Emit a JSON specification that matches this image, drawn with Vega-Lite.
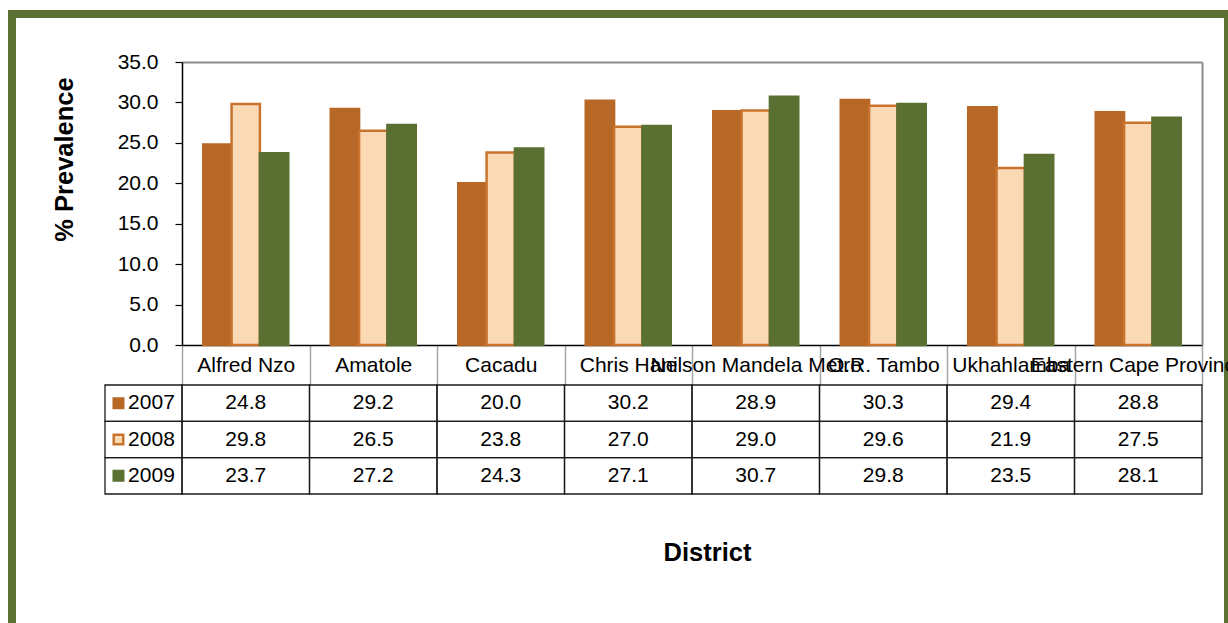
{
  "$schema": "https://vega.github.io/schema/vega-lite/v6.json",
  "width": 1216,
  "height": 621,
  "autosize": {"type": "none"},
  "padding": {"left": 12, "top": 14, "right": 0, "bottom": -12},
  "background": "white",
  "config": {
    "view": {"stroke": "#5b7133", "strokeWidth": 8, "fill": "white"},
    "font": "Liberation Sans",
    "axis": {"labelFont": "Liberation Sans", "titleFont": "Liberation Sans", "labelColor": "black", "titleColor": "black", "grid": false},
    "text": {"font": "Liberation Sans", "fontSize": 21, "color": "black"}
  },
  "datasets": {
    "prevalence": [
      {"district": "Alfred Nzo", "year": "2007", "value": 24.8},
      {"district": "Alfred Nzo", "year": "2008", "value": 29.8},
      {"district": "Alfred Nzo", "year": "2009", "value": 23.7},
      {"district": "Amatole", "year": "2007", "value": 29.2},
      {"district": "Amatole", "year": "2008", "value": 26.5},
      {"district": "Amatole", "year": "2009", "value": 27.2},
      {"district": "Cacadu", "year": "2007", "value": 20.0},
      {"district": "Cacadu", "year": "2008", "value": 23.8},
      {"district": "Cacadu", "year": "2009", "value": 24.3},
      {"district": "Chris Hani", "year": "2007", "value": 30.2},
      {"district": "Chris Hani", "year": "2008", "value": 27.0},
      {"district": "Chris Hani", "year": "2009", "value": 27.1},
      {"district": "Nelson Mandela Metro", "year": "2007", "value": 28.9},
      {"district": "Nelson Mandela Metro", "year": "2008", "value": 29.0},
      {"district": "Nelson Mandela Metro", "year": "2009", "value": 30.7},
      {"district": "O.R. Tambo", "year": "2007", "value": 30.3},
      {"district": "O.R. Tambo", "year": "2008", "value": 29.6},
      {"district": "O.R. Tambo", "year": "2009", "value": 29.8},
      {"district": "Ukhahlamba", "year": "2007", "value": 29.4},
      {"district": "Ukhahlamba", "year": "2008", "value": 21.9},
      {"district": "Ukhahlamba", "year": "2009", "value": 23.5},
      {"district": "Eastern Cape Province", "year": "2007", "value": 28.8},
      {"district": "Eastern Cape Province", "year": "2008", "value": 27.5},
      {"district": "Eastern Cape Province", "year": "2009", "value": 28.1}
    ]
  },
  "data": {"name": "prevalence"},
  "layer": [
    {
      "layer": [
        {
          "mark": {"type": "bar", "strokeWidth": 2.5},
          "encoding": {
            "x": {
              "field": "district", "type": "nominal", "sort": null,
              "scale": {
                "domain": ["Alfred Nzo", "Amatole", "Cacadu", "Chris Hani", "Nelson Mandela Metro", "O.R. Tambo", "Ukhahlamba", "Eastern Cape Province"],
                "range": [170, 1190], "paddingInner": 0, "paddingOuter": 0
              },
              "axis": {
                "orient": "bottom", "offset": -290,
                "title": "District", "titleFontSize": 25.5, "titleFontWeight": "bold",
                "titleX": 695, "titleY": 207, "titleBaseline": "middle", "titleAlign": "center",
                "labelAngle": 0, "labelFontSize": 21, "labelPadding": -20, "labelBaseline": "middle",
                "labelOverlap": false, "labelLimit": 0, "labelBound": false, "labelFlush": false,
                "tickBand": "extent", "tickSize": 40, "tickColor": "#a6a6a6", "tickWidth": 1.5,
                "domainColor": "black", "domainWidth": 1.5
              }
            },
            "xOffset": {
              "field": "year", "type": "nominal",
              "scale": {"domain": ["2007", "2008", "2009"], "paddingInner": 0, "paddingOuter": 0.75}
            },
            "y": {
              "field": "value", "type": "quantitative",
              "scale": {"domain": [0, 35], "range": [331, 48], "nice": false},
              "axis": {
                "orient": "left", "offset": -170,
                "values": [0, 5, 10, 15, 20, 25, 30, 35], "format": ".1f",
                "labelFontSize": 21, "labelPadding": 17,
                "tickSize": 7, "tickColor": "black", "tickWidth": 1.2,
                "domainColor": "black", "domainWidth": 1.5,
                "title": "% Prevalence", "titleFontSize": 25.5, "titleFontWeight": "bold",
                "titleAngle": -90, "titleX": -118, "titleY": 145,
                "titleBaseline": "middle", "titleAlign": "center"
              }
            },
            "fill": {
              "field": "year", "type": "nominal",
              "scale": {"domain": ["2007", "2008", "2009"], "range": ["#b86826", "#fad9b4", "#5a7032"]},
              "legend": null
            },
            "stroke": {
              "field": "year", "type": "nominal",
              "scale": {"domain": ["2007", "2008", "2009"], "range": ["#b86826", "#c8742f", "#5a7032"]},
              "legend": null
            }
          }
        },
        {
          "mark": {"type": "bar", "opacity": 0},
          "encoding": {
            "x": {
              "field": "district", "type": "nominal", "sort": null,
              "axis": {"orient": "top", "offset": -48, "labels": false, "ticks": false, "title": null, "domainColor": "#8c8c8c", "domainWidth": 2}
            },
            "y": {
              "field": "value", "type": "quantitative",
              "axis": {"orient": "right", "offset": -26, "labels": false, "ticks": false, "title": null, "domainColor": "#8c8c8c", "domainWidth": 2}
            }
          }
        }
      ],
      "resolve": {"axis": {"x": "independent", "y": "independent"}}
    },
    {
      "layer": [
        {
          "mark": {"type": "rect", "fill": "white", "fillOpacity": 0, "stroke": "#1a1a1a", "strokeWidth": 1.3},
          "encoding": {
            "x": {
              "field": "district", "type": "nominal", "sort": null,
              "scale": {
                "domain": ["Alfred Nzo", "Amatole", "Cacadu", "Chris Hani", "Nelson Mandela Metro", "O.R. Tambo", "Ukhahlamba", "Eastern Cape Province"],
                "range": [170, 1190], "paddingInner": 0, "paddingOuter": 0
              },
              "axis": null
            },
            "y": {
              "field": "year", "type": "nominal",
              "scale": {"domain": ["2007", "2008", "2009"], "range": [371, 480], "paddingInner": 0, "paddingOuter": 0},
              "axis": null
            }
          }
        },
        {
          "mark": {"type": "text", "fontSize": 21, "color": "black"},
          "encoding": {
            "x": {"field": "district", "type": "nominal", "sort": null},
            "y": {"field": "year", "type": "nominal"},
            "text": {"field": "value", "type": "quantitative", "format": ".1f"}
          }
        }
      ]
    },
    {
      "data": {"values": [{"year": "2007"}, {"year": "2008"}, {"year": "2009"}]},
      "layer": [
        {
          "mark": {"type": "rect", "fill": "white", "fillOpacity": 0, "stroke": "#1a1a1a", "strokeWidth": 1.3},
          "encoding": {
            "x": {
              "datum": "key", "type": "nominal",
              "scale": {"domain": ["key"], "range": [93, 170], "paddingInner": 0, "paddingOuter": 0},
              "axis": null
            },
            "y": {
              "field": "year", "type": "nominal",
              "scale": {"domain": ["2007", "2008", "2009"], "range": [371, 480], "paddingInner": 0, "paddingOuter": 0},
              "axis": null
            }
          }
        },
        {
          "mark": {"type": "point", "shape": "square", "filled": true, "size": 90, "strokeWidth": 2.5, "opacity": 1},
          "encoding": {
            "x": {"datum": "key", "type": "nominal", "bandPosition": 0.175},
            "y": {"field": "year", "type": "nominal"},
            "fill": {"field": "year", "type": "nominal", "legend": null},
            "stroke": {"field": "year", "type": "nominal", "legend": null}
          }
        },
        {
          "mark": {"type": "text", "align": "left", "fontSize": 21, "color": "black"},
          "encoding": {
            "x": {"datum": "key", "type": "nominal", "bandPosition": 0.3},
            "y": {"field": "year", "type": "nominal"},
            "text": {"field": "year", "type": "nominal"}
          }
        }
      ]
    }
  ],
  "resolve": {"scale": {"x": "independent", "y": "independent"}}
}
